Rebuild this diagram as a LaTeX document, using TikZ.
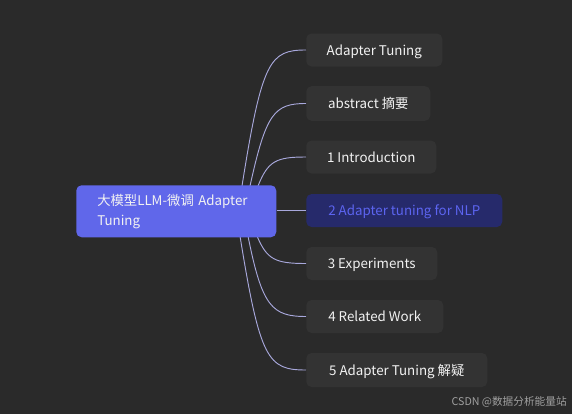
\documentclass[tikz,border=0pt]{standalone}
\usepackage{fontspec}
\setmainfont{Noto Sans CJK SC}
\usetikzlibrary{calc}
\definecolor{bg}{HTML}{2A2A2A}
\definecolor{nodebg}{HTML}{333333}
\definecolor{rootbg}{HTML}{6067EA}
\definecolor{selbg}{HTML}{262A6B}
\definecolor{seltxt}{HTML}{5C64F0}
\definecolor{linec}{HTML}{A8A8DC}
\definecolor{txt}{HTML}{F2F2F2}
\definecolor{wm}{HTML}{A0A0A0}
\tikzset{
  child/.style={fill=nodebg, rounded corners=4pt, text=txt, anchor=west,
    minimum height=24.75pt, inner sep=0pt, text height=9pt, text depth=1pt,
    font=\fontsize{10pt}{12pt}\selectfont},
  sel/.style={child, fill=selbg, text=seltxt},
  rootnode/.style={fill=rootbg, rounded corners=4pt, text=txt, anchor=north west,
    minimum width=150pt, minimum height=39pt, inner xsep=15.75pt, inner ysep=0pt,
    text width=118.5pt, align=left,
    font=\fontsize{10pt}{13.5pt}\selectfont},
  conn/.style={draw=linec, line width=0.7pt},
}
\begin{document}
\begin{tikzpicture}[x=0.75pt,y=-0.75pt]
\fill[bg] (0,0) rectangle (572,414);
\useasboundingbox (0,0) rectangle (572,414);
% children
\node[child, minimum width=102pt] (c1) at (306,50) {Adapter Tuning};
\node[child, minimum width=93pt, minimum height=26pt] (c2) at (306,103.5) {abstract 摘要};
\node[child, minimum width=97.5pt] (c3) at (306,157) {1 Introduction};
\node[sel, minimum width=147pt] (c4) at (306,210.5) {2 Adapter tuning for NLP};
\node[child, minimum width=98.25pt] (c5) at (306,263.5) {3 Experiments};
\node[child, minimum width=102.75pt] (c6) at (306,316.5) {4 Related Work};
\node[child, minimum width=135.75pt, minimum height=25.5pt] (c7) at (306,370) {5 Adapter Tuning 解疑};
% anchor points on the root
\coordinate (s1) at (242,186);
\coordinate (s2) at (250,186);
\coordinate (s3) at (258,186);
\coordinate (s5) at (257,236);
\coordinate (s6) at (248,236);
\coordinate (s7) at (240,236);
\draw[conn] (s1) .. controls ($(s1 |- c1.west)+(20,10)$) and ($(s1 |- c1.west)+(28,0)$) .. (c1.west);
\draw[conn] (s2) .. controls ($(s2 |- c2.west)+(16,10)$) and ($(s2 |- c2.west)+(24,0)$) .. (c2.west);
\draw[conn] (s3) .. controls ($(s3 |- c3.west)+(10,4)$) and ($(s3 |- c3.west)+(18,0)$) .. (c3.west);
\draw[conn] (s5) .. controls ($(s5 |- c5.west)+(10,-4)$) and ($(s5 |- c5.west)+(18,0)$) .. (c5.west);
\draw[conn] (s6) .. controls ($(s6 |- c6.west)+(14,-10)$) and ($(s6 |- c6.west)+(24,0)$) .. (c6.west);
\draw[conn] (s7) .. controls ($(s7 |- c7.west)+(20,-10)$) and ($(s7 |- c7.west)+(28,0)$) .. (c7.west);
% root
\node[rootnode] (root) at (76,185) {\vspace*{1.5pt}大模型LLM-微调 Adapter\\Tuning};
\draw[conn] (root.east |- c4.west) -- (c4.west);
% watermark
\node[anchor=east, text=wm, inner sep=0pt, font=\fontsize{8pt}{9pt}\selectfont] (wmk) at (567,402) {CSDN @数据分析能量站};
\end{tikzpicture}
\end{document}
